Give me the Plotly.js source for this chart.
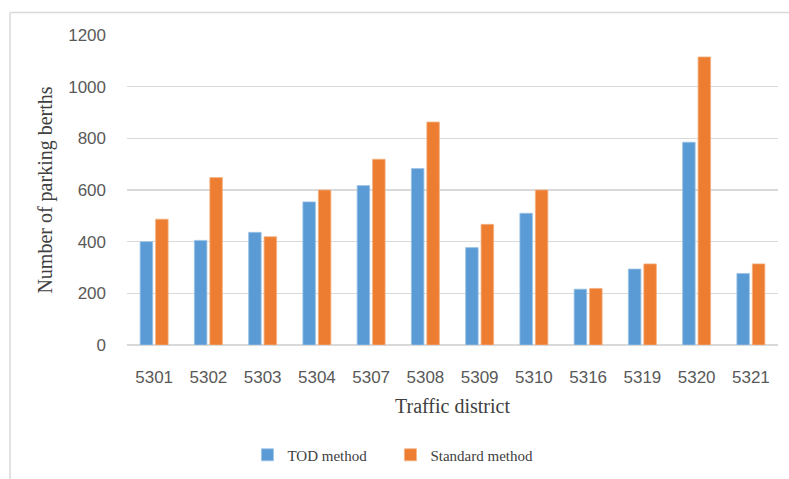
<!DOCTYPE html>
<html>
<head>
<meta charset="utf-8">
<script src="https://cdn.plot.ly/plotly-3.0.1.min.js"></script>
<style>html,body{margin:0;padding:0;background:#fff;}#chart{width:789px;height:479px;}</style>
</head>
<body>
<div id="chart"></div>
<script>
const districts = ["5301","5302","5303","5304","5307","5308","5309","5310","5316","5319","5320","5321"];
const todMethod = [400, 405, 436, 554, 617, 683, 377, 510, 216, 294, 785, 277];
const standardMethod = [487, 648, 419, 600, 719, 863, 467, 600, 219, 314, 1115, 314];
const yTicks = [0, 200, 400, 600, 800, 1000, 1200];

const traces = [
  {type: "bar", name: "TOD method", x: districts, y: todMethod,
   marker: {color: "#5B9BD5", line: {color: "#9CC3E6", width: 0.8}}},
  {type: "bar", name: "Standard method", x: districts, y: standardMethod,
   marker: {color: "#ED7D31", line: {color: "#F4B183", width: 0.8}}}
];

const layout = {
  width: 789, height: 479,
  margin: {l: 127, r: 11, t: 35, b: 134},
  paper_bgcolor: "#fff", plot_bgcolor: "#fff",
  barmode: "group", bargap: 0.43, bargroupgap: 0.19,
  showlegend: true,
  legend: {orientation: "h", x: 0.185, xanchor: "left", yref: "container", y: 0.05, yanchor: "middle",
           font: {family: "Liberation Serif", size: 15, color: "#404040"},
           entrywidth: 98, bgcolor: "rgba(0,0,0,0)"},
  xaxis: {
    type: "category", tickvals: districts, ticktext: districts, automargin: false,
    showgrid: false, showline: false, ticks: "", zeroline: false,
    tickfont: {family: "Liberation Sans", size: 17, color: "#595959"},
    ticklabelstandoff: 20,
    title: {text: "Traffic district", font: {family: "Liberation Serif", size: 20, color: "#404040"}, standoff: 12}
  },
  yaxis: {
    range: [0, 1200], tickvals: yTicks, ticktext: yTicks.map(String), automargin: false,
    showgrid: true, gridcolor: "#D9D9D9", gridwidth: 1.3,
    zeroline: true, zerolinecolor: "#D9D9D9", zerolinewidth: 1.3,
    showline: false, ticks: "",
    tickfont: {family: "Liberation Sans", size: 17, color: "#595959"},
    ticklabelstandoff: 20,
    title: {text: "Number of parking berths", font: {family: "Liberation Serif", size: 20, color: "#404040"}, standoff: 10}
  },
  shapes: [
    {type: "line", xref: "paper", yref: "paper", x0: -0.1797, x1: 1.02, y0: 1.0726, y1: 1.0726,
     line: {color: "#D9D9D9", width: 1.5}},
    {type: "line", xref: "paper", yref: "paper", x0: -0.1797, x1: -0.1797, y0: 1.0726, y1: -0.44,
     line: {color: "#D9D9D9", width: 1.5}}
  ]
};

Plotly.newPlot("chart", traces, layout, {displayModeBar: false, staticPlot: true});
</script>
</body>
</html>
